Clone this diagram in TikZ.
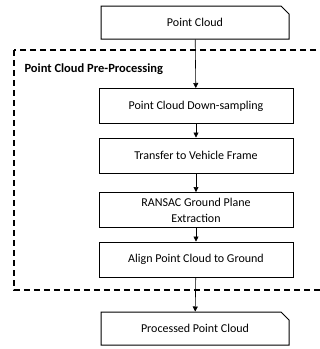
\documentclass[tikz,border=0pt]{standalone}
\usepackage{fontspec}
\setmainfont{Carlito}
\usetikzlibrary{shapes.misc,arrows.meta}
\tikzset{
  stepbox/.style={draw, line width=1pt, minimum width=194pt, minimum height=35pt,
    inner sep=2pt, align=center, font=\fontsize{12}{16}\selectfont},
  databox/.style={chamfered rectangle, chamfered rectangle corners=north east,
    chamfered rectangle xsep=4pt, chamfered rectangle ysep=4pt, draw, line width=1pt,
    minimum width=188pt, minimum height=33pt, font=\fontsize{12}{14}\selectfont},
  flow/.style={-{Triangle[length=5pt,width=5pt]}, line width=0.6pt},
  group/.style={draw, line width=1.2pt, dash pattern=on 6pt off 4pt}
}
\begin{document}
\begin{tikzpicture}[x=1pt,y=1pt]
\useasboundingbox (0,0) rectangle (320,-349);
\clip (0,0) rectangle (320,-349);
% pre-processing group
\draw[group] (14,-50) rectangle (330,-290);
\node[anchor=west, font=\bfseries\fontsize{12.5}{14}\selectfont] (grouplabel) at (21,-69) {Point Cloud Pre-Processing};
% nodes
\node[databox] (pc) at (195,-22.5) {Point Cloud};
\node[stepbox] (down) at (196,-106) {Point Cloud Down-sampling};
\node[stepbox] (transfer) at (196,-155.5) {Transfer to Vehicle Frame};
\node[stepbox] (ransac) at (196,-210) {RANSAC Ground Plane\\Extraction};
\node[stepbox] (align) at (196,-259.5) {Align Point Cloud to Ground};
\node[databox] (processed) at (195,-328.5) {Processed Point Cloud};
% arrows
\draw[flow] (pc) -- (down);
\draw[flow] (down) -- (transfer);
\draw[flow] (transfer) -- (ransac);
\draw[flow] (ransac) -- (align);
\draw[flow] (align) -- (processed);
\end{tikzpicture}
\end{document}
